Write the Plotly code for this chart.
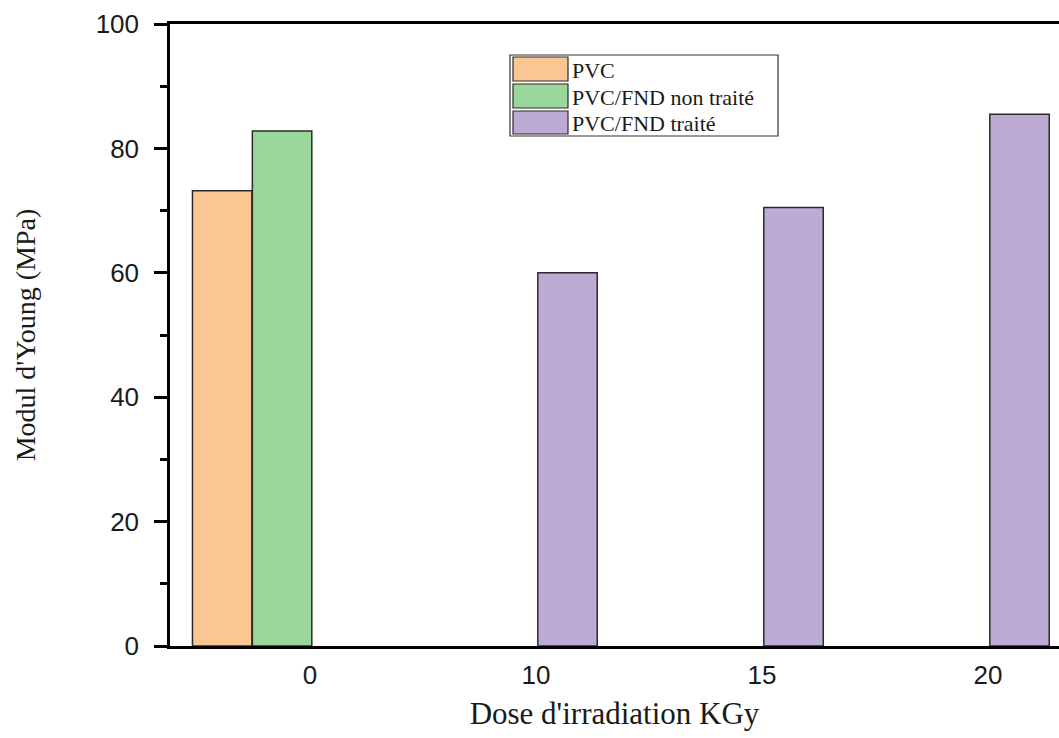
import plotly.graph_objects as go

# ---- data ----
dose_labels = ["0", "10", "15", "20"]
pvc_dose = ["0"]
pvc_values = [73.2]
fnd_non_dose = ["0"]
fnd_non_values = [82.8]
fnd_traite_dose = ["10", "15", "20"]
fnd_traite_values = [60.0, 70.5, 85.5]
series_names = ["PVC", "PVC/FND non traité", "PVC/FND traité"]
series_colors = ["#FCC692", "#9BD69B", "#BDABD6"]

pos = {lab: i for i, lab in enumerate(dose_labels)}

W = 0.263
edge = dict(color="#2b2b2b", width=1.5)

fig = go.Figure()
fig.add_trace(go.Bar(x=[pos[d] for d in pvc_dose], y=pvc_values, width=W, offset=-0.52,
                     marker=dict(color=series_colors[0], line=edge), name=series_names[0], showlegend=False))
fig.add_trace(go.Bar(x=[pos[d] for d in fnd_non_dose], y=fnd_non_values, width=W, offset=-0.255,
                     marker=dict(color=series_colors[1], line=edge), name=series_names[1], showlegend=False))
fig.add_trace(go.Bar(x=[pos[d] for d in fnd_traite_dose], y=fnd_traite_values, width=W, offset=0.008,
                     marker=dict(color=series_colors[2], line=edge), name=series_names[2], showlegend=False))

# plot area geometry (pixels)
L, R, T, B = 170, 1059, 24, 646
PW, PH = R - L, B - T

def px(x):
    return (x - L) / PW

def py(y):
    return (B - y) / PH

# custom legend
shapes = [dict(type="rect", xref="paper", yref="paper", x0=px(510), x1=px(778), y0=py(136), y1=py(55),
               line=dict(color="#333", width=1.2), fillcolor="white", layer="above")]
annotations = []
rows = [(57, 81), (84, 108), (111, 134)]
for (y0, y1), name, col in zip(rows, series_names, series_colors):
    shapes.append(dict(type="rect", xref="paper", yref="paper", x0=px(513), x1=px(568), y0=py(y1), y1=py(y0),
                       line=dict(color="#2b2b2b", width=1.2), fillcolor=col, layer="above"))
    annotations.append(dict(xref="paper", yref="paper", x=px(570), y=py((y0 + y1) / 2 + 1), text=name,
                            showarrow=False, xanchor="left", yanchor="middle",
                            font=dict(family="Liberation Serif", size=22, color="#1a1a1a")))

fig.update_layout(
    width=1059, height=738,
    margin=dict(l=L, r=1059 - R, t=T, b=738 - B),
    plot_bgcolor="white", paper_bgcolor="white",
    barmode="overlay",
    shapes=shapes, annotations=annotations,
    showlegend=False,
)
fig.update_xaxes(
    range=[-(310 - L) / 226, (R - 310) / 226],
    tickvals=list(range(len(dose_labels))), ticktext=dose_labels,
    ticks="", showgrid=False, zeroline=False,
    showline=True, linecolor="black", linewidth=2.5, mirror=True,
    tickfont=dict(family="Liberation Sans", size=26, color="#1a1a1a"),
    ticklabelstandoff=4,
    title=dict(text="Dose d'irradiation KGy", font=dict(family="Liberation Serif", size=31, color="#1a1a1a"),
               standoff=14),
)
fig.update_yaxes(
    range=[0, 100], tickvals=[0, 20, 40, 60, 80, 100],
    ticks="outside", ticklen=13, tickwidth=2.5, tickcolor="black",
    minor=dict(ticks="outside", ticklen=7, tickwidth=2.5, tickcolor="black", dtick=10, showgrid=False),
    showgrid=False, zeroline=False,
    showline=True, linecolor="black", linewidth=2.5, mirror=False,
    tickfont=dict(family="Liberation Sans", size=26, color="#1a1a1a"),
    ticklabelstandoff=10,
    title=dict(text="Modul d'Young (MPa)", font=dict(family="Liberation Serif", size=28, color="#1a1a1a"),
               standoff=52),
)

fig.write_html("out.html")
